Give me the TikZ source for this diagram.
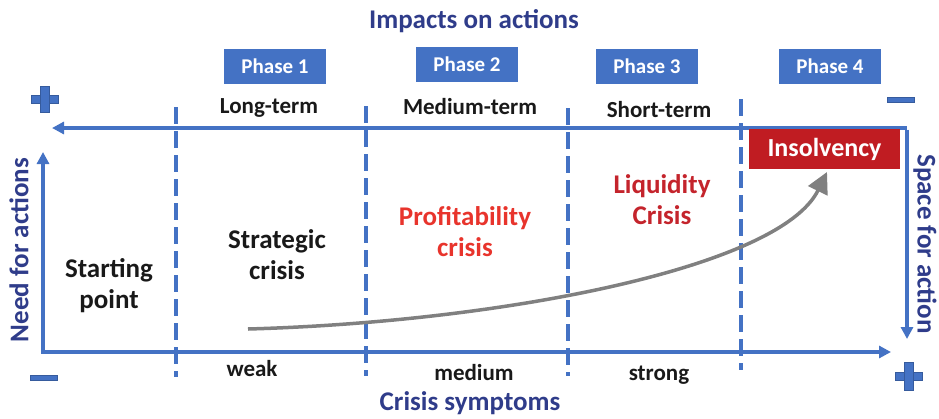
\documentclass[tikz,border=0pt]{standalone}
\usepackage{fontspec}
\setmainfont{Carlito}
\usetikzlibrary{arrows.meta}
\definecolor{axisblue}{RGB}{68,114,196}
\definecolor{navy}{RGB}{47,60,138}
\definecolor{profred}{RGB}{232,52,44}
\definecolor{liqred}{RGB}{196,36,44}
\definecolor{insred}{RGB}{192,28,34}
\definecolor{curvegray}{RGB}{128,128,128}
\begin{document}
\begin{tikzpicture}[x=1pt,y=-1pt,
  axis/.style={draw=axisblue,line width=3.2pt,-{Triangle[length=12pt,width=12pt]}},
  divider/.style={draw=axisblue,line width=3.3pt,dash pattern=on 17pt off 7pt},
  phasebox/.style={fill=axisblue,text=white,font=\fontsize{21}{24}\selectfont\bfseries,
    minimum width=102pt,minimum height=35pt,inner sep=0pt},
  title/.style={text=navy,font=\fontsize{27}{30}\selectfont\bfseries},
  term/.style={text=black!90,font=\fontsize{23}{26}\selectfont\bfseries},
  stage/.style={font=\fontsize{27}{31}\selectfont\bfseries,align=center},
  sign/.style={fill=axisblue,draw=axisblue!80!black,line width=0.4pt}]
\useasboundingbox (0,0) rectangle (939,418);

% titles
\node[title] (impacts) at (474,21) {Impacts on actions};
\node[title] (symptoms) at (470,403) {Crisis symptoms};
\node[title,rotate=90] (need) at (19,250) {Need for actions};
\node[title,rotate=-90] (space) at (925,244) {Space for action};

% phase boxes
\node[phasebox] (p1) at (275,66.5) {Phase 1};
\node[phasebox] (p2) at (467,64) {Phase 2};
\node[phasebox] (p3) at (647,66.5) {Phase 3};
\node[phasebox] (p4) at (830,66.5) {Phase 4};

% horizon labels
\node[term] (long) at (269,108) {Long-term};
\node[term] (medium) at (470,107) {Medium-term};
\node[term] (short) at (659,110) {Short-term};

% intensity labels
\node[term] (weak) at (252,369) {weak};
\node[term] (med) at (474,373) {medium};
\node[term] (strong) at (659,375) {strong};

% axis corners
\coordinate (tl) at (52,128);
\coordinate (tr) at (907,128);
\coordinate (br) at (907,339);
\coordinate (ol) at (43,352);
\coordinate (ot) at (43,152);
\coordinate (or) at (891,352);
\draw[axis] (tr) -- (tl);
\draw[axis] ([yshift=-1.6pt]tr) -- (br);
\draw[axis] ([yshift=1.6pt]ol) -- (ot);
\draw[axis] ([xshift=-1.6pt]ol) -- (or);

% phase dividers
\coordinate (d1t) at (176,107); \coordinate (d1b) at (176,377);
\coordinate (d2t) at (366,106); \coordinate (d2b) at (366,376);
\coordinate (d3t) at (568,108); \coordinate (d3b) at (568,376);
\coordinate (d4t) at (741,99);  \coordinate (d4b) at (741,370);
\draw[divider] (d1t) -- (d1b);
\draw[divider] (d2t) -- (d2b);
\draw[divider] (d3t) -- (d3b);
\draw[divider] (d4t) -- (d4b);

% plus / minus markers
\fill[sign] (31,95) rectangle (58,103);
\fill[sign] (40,86) rectangle (49,112);
\fill[sign] (887,97) rectangle (914,102);
\fill[sign] (30,375) rectangle (57,380);
\fill[sign] (895,372) rectangle (922,380);
\fill[sign] (904,362) rectangle (913,390);

% stages
\node[stage,text=black!90] (start) at (109,286) {Starting\\point};
\node[stage,text=black!90] (strat) at (277,255) {Strategic\\crisis};
\node[stage,text=profred] (profit) at (465,232) {Profitability\\crisis};
\node[stage,text=liqred] (liquid) at (662,200) {Liquidity\\Crisis};
\node[fill=insred,text=white,font=\fontsize{26}{30}\selectfont\bfseries,
  minimum width=151pt,minimum height=40pt,inner sep=0pt] (insolv) at (824.5,149) {Insolvency};

% crisis trajectory
\coordinate (c0) at (248,329);
\coordinate (c1) at (827,172);
\draw[curvegray,line width=3.5pt,-{Triangle[length=21pt,width=21pt]}]
  (c0) .. controls (500,322) and (780,268) .. (c1);
\end{tikzpicture}
\end{document}
